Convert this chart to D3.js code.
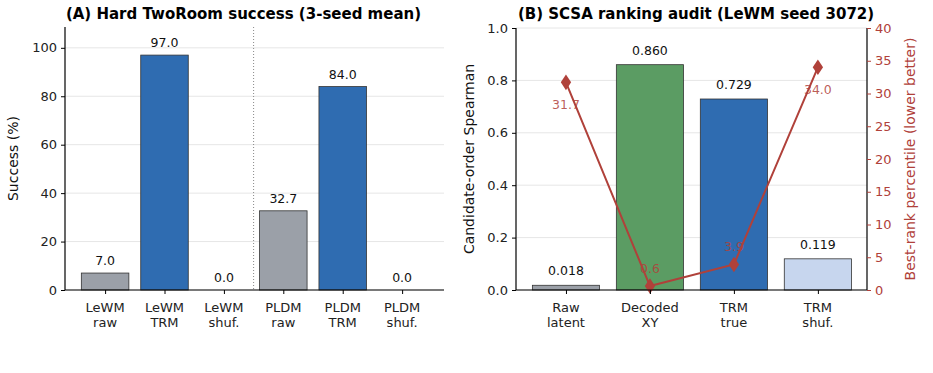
<!DOCTYPE html>
<html>
<head>
<meta charset="utf-8">
<script src="https://cdn.jsdelivr.net/npm/d3@7"></script>
<style>
  body { margin: 0; background: #fff; }
  svg { font-family: "DejaVu Sans", sans-serif; }
</style>
</head>
<body>
<svg id="svg"></svg>
<script>
// panel A
var successCats = [["LeWM", "raw"], ["LeWM", "TRM"], ["LeWM", "shuf."], ["PLDM", "raw"], ["PLDM", "TRM"], ["PLDM", "shuf."]];
var successVals = [7.0, 97.0, 0.0, 32.7, 84.0, 0.0];
var successKind = ["raw", "trm", "shuf", "raw", "trm", "shuf"];
var successTicks = [0, 20, 40, 60, 80, 100];

// panel B
var auditCats = [["Raw", "latent"], ["Decoded", "XY"], ["TRM", "true"], ["TRM", "shuf."]];
var spearman = [0.018, 0.860, 0.729, 0.119];
var auditKind = ["raw", "xy", "trm", "shufb"];
var percentile = [31.7, 0.6, 3.9, 34.0];
var spearTicks = [0, 0.2, 0.4, 0.6, 0.8, 1.0];
var pctTicks = [0, 5, 10, 15, 20, 25, 30, 35, 40];

var colors = { raw: "#9ba0a8", trm: "#2f6cb1", shuf: "#2f6cb1", xy: "#5b9c63", shufb: "#c7d6ee" };
var red = "#b0413a";

var width = 933, height = 373;
var svg = d3.select("#svg").attr("width", width).attr("height", height);

function xTickLabels(g, x, cats) {
	cats.forEach(function(c, i){
		var t = g.append("text")
			.attr("x", x(i))
			.attr("y", 312)
			.attr("text-anchor", "middle")
			.attr("font-size", 13)
			.attr("fill", "#222");
		t.append("tspan").attr("x", x(i)).attr("dy", 0).text(c[0]);
		t.append("tspan").attr("x", x(i)).attr("dy", 14.5).text(c[1]);
	});
}

// ---------- Panel A ----------
(function(){
	var left = 65, right = 444, top = 27, bottom = 290;
	var x = d3.scaleLinear().domain([-0.675, 5.705]).range([left, right]);
	var y = d3.scaleLinear().domain([0, 108.6]).range([bottom, top]);
	var g = svg.append("g");

	g.selectAll("line.grid").data(successTicks).enter().append("line")
		.attr("x1", left).attr("x2", right)
		.attr("y1", function(d){ return y(d); }).attr("y2", function(d){ return y(d); })
		.attr("stroke", "#e6e6e6").attr("stroke-width", 1);

	g.append("line")
		.attr("x1", x(2.5)).attr("x2", x(2.5)).attr("y1", top).attr("y2", bottom)
		.attr("stroke", "#888").attr("stroke-width", 1).attr("stroke-dasharray", "1,2");

	g.selectAll("rect").data(successVals).enter().append("rect")
		.attr("x", function(d, i){ return x(i - 0.4); })
		.attr("width", x(0.8) - x(0))
		.attr("y", function(d){ return y(d); })
		.attr("height", function(d){ return bottom - y(d); })
		.attr("fill", function(d, i){ return colors[successKind[i]]; })
		.attr("stroke", "#333").attr("stroke-width", 0.8);

	g.selectAll("text.val").data(successVals).enter().append("text")
		.attr("x", function(d, i){ return x(i); })
		.attr("y", function(d){ return y(d) - 8; })
		.attr("text-anchor", "middle").attr("font-size", 12.5).attr("fill", "#111")
		.text(function(d){ return d.toFixed(1); });

	var ya = g.append("g").attr("transform", "translate(" + left + ",0)")
		.call(d3.axisLeft(y).tickValues(successTicks).tickSize(4).tickPadding(4));
	ya.select(".domain").attr("d", "M0," + top + "V" + bottom).attr("stroke", "#000").attr("stroke-width", 1.2);
	ya.selectAll("text").attr("font-size", 13).attr("fill", "#222").attr("font-family", "DejaVu Sans");
	ya.selectAll(".tick line").attr("stroke", "#000");

	var xa = g.append("g").attr("transform", "translate(0," + bottom + ")")
		.call(d3.axisBottom(x).tickValues(d3.range(successCats.length)).tickSize(4).tickFormat(""));
	xa.select(".domain").attr("d", "M" + left + ",0H" + right).attr("stroke", "#000").attr("stroke-width", 1.2);
	xa.selectAll(".tick line").attr("stroke", "#000");
	xTickLabels(g, x, successCats);

	g.append("text")
		.attr("transform", "translate(18," + ((top + bottom) / 2) + ") rotate(-90)")
		.attr("text-anchor", "middle").attr("font-size", 14).attr("fill", "#111")
		.text("Success (%)");

	g.append("text")
		.attr("x", 243.5).attr("y", 18.5)
		.attr("text-anchor", "middle").attr("font-size", 15).attr("font-weight", "bold")
		.text("(A) Hard TwoRoom success (3-seed mean)");
})();

// ---------- Panel B ----------
(function(){
	var left = 516, right = 867, top = 28, bottom = 290;
	var x = d3.scaleLinear().domain([-0.595, 3.585]).range([left, right]);
	var y = d3.scaleLinear().domain([0, 1]).range([bottom, top]);
	var y2 = d3.scaleLinear().domain([0, 40]).range([bottom, top]);
	var g = svg.append("g");

	g.selectAll("line.grid").data(spearTicks).enter().append("line")
		.attr("x1", left).attr("x2", right)
		.attr("y1", function(d){ return y(d); }).attr("y2", function(d){ return y(d); })
		.attr("stroke", "#e6e6e6").attr("stroke-width", 1);

	g.selectAll("rect").data(spearman).enter().append("rect")
		.attr("x", function(d, i){ return x(i - 0.4); })
		.attr("width", x(0.8) - x(0))
		.attr("y", function(d){ return y(d); })
		.attr("height", function(d){ return bottom - y(d); })
		.attr("fill", function(d, i){ return colors[auditKind[i]]; })
		.attr("stroke", "#333").attr("stroke-width", 0.8);

	g.selectAll("text.val").data(spearman).enter().append("text")
		.attr("x", function(d, i){ return x(i); })
		.attr("y", function(d){ return y(d) - 10; })
		.attr("text-anchor", "middle").attr("font-size", 12.5).attr("fill", "#111")
		.text(function(d){ return d.toFixed(3); });

	var line = d3.line()
		.x(function(d, i){ return x(i); })
		.y(function(d){ return y2(d); });
	g.append("path").datum(percentile)
		.attr("d", line).attr("fill", "none").attr("stroke", red).attr("stroke-width", 2);
	g.selectAll("path.pt").data(percentile).enter().append("path")
		.attr("d", d3.symbol().type(d3.symbolDiamond).size(70))
		.attr("transform", function(d, i){ return "translate(" + x(i) + "," + y2(d) + ") scale(1.15,1)"; })
		.attr("fill", red);
	g.selectAll("text.pct").data(percentile).enter().append("text")
		.attr("x", function(d, i){ return x(i); })
		.attr("y", function(d){ return d > 20 ? y2(d) + 27 : y2(d) - 13; })
		.attr("text-anchor", "middle").attr("font-size", 12.5).attr("fill", red).attr("fill-opacity", 0.85)
		.text(function(d){ return d.toFixed(1); });

	var ya = g.append("g").attr("transform", "translate(" + left + ",0)")
		.call(d3.axisLeft(y).tickValues(spearTicks).tickFormat(d3.format(".1f")).tickSize(4).tickPadding(4));
	ya.select(".domain").attr("d", "M0," + top + "V" + bottom).attr("stroke", "#000").attr("stroke-width", 1.2);
	ya.selectAll("text").attr("font-size", 13).attr("fill", "#222").attr("font-family", "DejaVu Sans");
	ya.selectAll(".tick line").attr("stroke", "#000");

	var yb = g.append("g").attr("transform", "translate(" + right + ",0)")
		.call(d3.axisRight(y2).tickValues(pctTicks).tickSize(4).tickPadding(4));
	yb.select(".domain").attr("d", "M0," + top + "V" + bottom).attr("stroke", "#000").attr("stroke-width", 1.2);
	yb.selectAll("text").attr("font-size", 13).attr("fill", red).attr("font-family", "DejaVu Sans");
	yb.selectAll(".tick line").attr("stroke", red);

	var xa = g.append("g").attr("transform", "translate(0," + bottom + ")")
		.call(d3.axisBottom(x).tickValues(d3.range(auditCats.length)).tickSize(4).tickFormat(""));
	xa.select(".domain").attr("d", "M" + left + ",0H" + right).attr("stroke", "#000").attr("stroke-width", 1.2);
	xa.selectAll(".tick line").attr("stroke", "#000");
	xTickLabels(g, x, auditCats);

	g.append("text")
		.attr("transform", "translate(474," + ((top + bottom) / 2) + ") rotate(-90)")
		.attr("text-anchor", "middle").attr("font-size", 14).attr("fill", "#111")
		.text("Candidate-order Spearman");

	g.append("text")
		.attr("transform", "translate(915," + ((top + bottom) / 2) + ") rotate(-90)")
		.attr("text-anchor", "middle").attr("font-size", 14).attr("fill", red)
		.text("Best-rank percentile (lower better)");

	g.append("text")
		.attr("x", 696).attr("y", 18.5)
		.attr("text-anchor", "middle").attr("font-size", 15).attr("font-weight", "bold")
		.text("(B) SCSA ranking audit (LeWM seed 3072)");
})();
</script>
</body>
</html>
